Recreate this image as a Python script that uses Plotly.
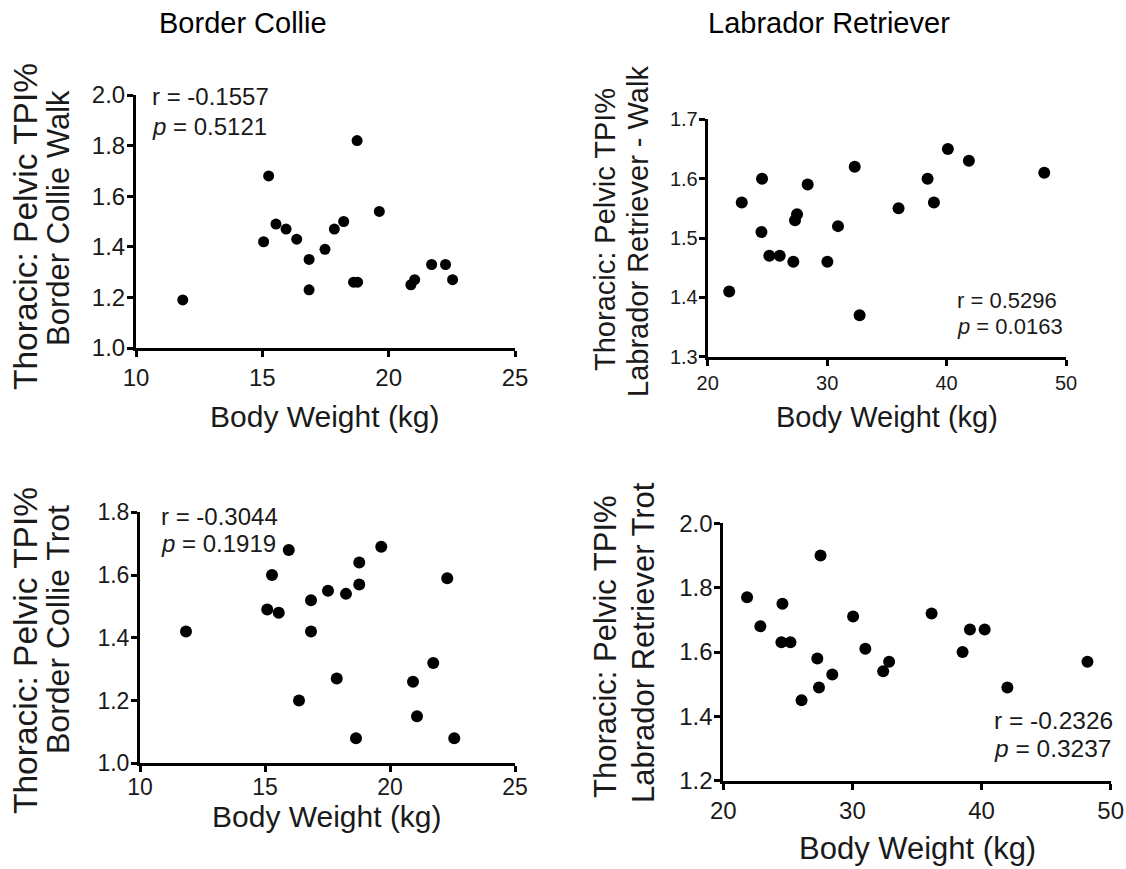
import plotly.graph_objects as go

W, H = 1126, 869

# ---------------- data ----------------
bc_walk_weight = [11.85, 15.05, 15.25, 15.54, 15.94, 16.36, 16.85, 16.85, 17.48, 17.85,
                  18.22, 18.61, 18.75, 18.77, 19.63, 20.88, 21.03, 21.70, 22.25, 22.53]
bc_walk_tpi = [1.19, 1.42, 1.68, 1.49, 1.47, 1.43, 1.35, 1.23, 1.39, 1.47,
               1.50, 1.26, 1.82, 1.26, 1.54, 1.25, 1.27, 1.33, 1.33, 1.27]

lab_walk_weight = [21.80, 22.85, 24.50, 24.55, 25.16, 26.03, 27.17, 27.31, 27.48, 28.37,
                   30.02, 30.91, 32.31, 32.72, 35.98, 38.41, 38.94, 40.11, 41.87, 48.18]
lab_walk_tpi = [1.41, 1.56, 1.51, 1.60, 1.47, 1.47, 1.46, 1.53, 1.54, 1.59,
                1.46, 1.52, 1.62, 1.37, 1.55, 1.60, 1.56, 1.65, 1.63, 1.61]

bc_trot_weight = [11.84, 15.09, 15.28, 15.55, 15.95, 16.36, 16.84, 16.84, 17.52, 17.87,
                  18.24, 18.64, 18.77, 18.77, 19.65, 20.92, 21.08, 21.73, 22.29, 22.57]
bc_trot_tpi = [1.42, 1.49, 1.60, 1.48, 1.68, 1.20, 1.52, 1.42, 1.55, 1.27,
               1.54, 1.08, 1.64, 1.57, 1.69, 1.26, 1.15, 1.32, 1.59, 1.08]

lab_trot_weight = [21.84, 22.87, 24.50, 24.58, 25.20, 26.06, 27.28, 27.41, 27.53, 28.44,
                   30.05, 31.00, 32.38, 32.84, 36.13, 38.53, 39.10, 40.24, 42.00, 48.20]
lab_trot_tpi = [1.77, 1.68, 1.63, 1.75, 1.63, 1.45, 1.58, 1.49, 1.90, 1.53,
                1.71, 1.61, 1.54, 1.57, 1.72, 1.60, 1.67, 1.67, 1.49, 1.57]

column_titles = ["Border Collie", "Labrador Retriever"]
y_title_line1 = "Thoracic: Pelvic TPI%"
y_title_line2 = ["Border Collie Walk", "Labrador Retriever - Walk",
                 "Border Collie Trot", "Labrador Retriever Trot"]
x_title = "Body Weight (kg)"
r_texts = ["r = -0.1557", "r = 0.5296", "r = -0.3044", "r = -0.2326"]
p_texts = ["0.5121", "0.0163", "0.1919", "0.3237"]

bc_xticks = [10, 15, 20, 25]
lab_xticks = [20, 30, 40, 50]
y_ticks = [
    [1.0, 1.2, 1.4, 1.6, 1.8, 2.0],
    [1.3, 1.4, 1.5, 1.6, 1.7],
    [1.0, 1.2, 1.4, 1.6, 1.8],
    [1.2, 1.4, 1.6, 1.8, 2.0],
]

# ---------------- layout helpers ----------------
FONT = "Liberation Sans, Arial, Helvetica, sans-serif"
TXT = "#1a1a1a"


def px(x, y):
    return x / W, 1 - y / H


# panel boxes in pixels: (x0, x1, ytop, ybottom)
boxes = [(136, 515, 95, 348), (707.7, 1066, 119.3, 356.7),
         (140, 515, 512.3, 763.3), (723.3, 1110.7, 523.3, 780.7)]
xranges = [[10, 25], [20, 50], [10, 25], [20, 50]]
yranges = [[1.0, 2.0], [1.3, 1.7], [1.0, 1.8], [1.2, 2.0]]
xtickvals = [bc_xticks, lab_xticks, bc_xticks, lab_xticks]
tickfont_sizes = [24, 20, 23, 24]
xlabel_standoff = [0, 0, -5, 0]
marker_sizes = [11, 12, 12, 12]
series = [(bc_walk_weight, bc_walk_tpi), (lab_walk_weight, lab_walk_tpi),
          (bc_trot_weight, bc_trot_tpi), (lab_trot_weight, lab_trot_tpi)]

fig = go.Figure()
layout = dict(width=W, height=H, autosize=False,
              margin=dict(l=0, r=0, t=0, b=0, pad=0, autoexpand=False),
              paper_bgcolor="white", plot_bgcolor="white", showlegend=False,
              font=dict(family=FONT, color=TXT))

for i in range(4):
    n = "" if i == 0 else str(i + 1)
    x0, x1, yt, yb = boxes[i]
    xs, ys = series[i]
    fig.add_trace(go.Scatter(x=xs, y=ys, mode="markers",
                             marker=dict(color="black", size=marker_sizes[i]),
                             xaxis="x" + n, yaxis="y" + n, cliponaxis=False))
    common = dict(showline=True, linecolor="black", linewidth=3, ticks="outside",
                  ticklen=6, tickwidth=3, tickcolor="black", showgrid=False,
                  zeroline=False, automargin=False,
                  tickfont=dict(size=tickfont_sizes[i], family=FONT, color=TXT))
    layout["xaxis" + n] = dict(domain=[x0 / W, x1 / W], range=xranges[i],
                               tickvals=xtickvals[i], anchor="y" + n,
                               ticklabelstandoff=xlabel_standoff[i], **common)
    layout["yaxis" + n] = dict(domain=[1 - yb / H, 1 - yt / H], range=yranges[i],
                               tickvals=y_ticks[i], tickformat=".1f",
                               anchor="x" + n, ticklabelstandoff=-3, **common)

ann = []


def add_text(text, x, y, size, xanchor="center", angle=0, color=TXT):
    ax, ay = px(x, y)
    ann.append(dict(text=text, x=ax, y=ay, xref="paper", yref="paper",
                    xanchor=xanchor, yanchor="middle", showarrow=False,
                    textangle=angle, font=dict(size=size, family=FONT, color=color)))


# column titles
add_text(column_titles[0], 243, 23, 29, color="black")
add_text(column_titles[1], 829, 23, 29, color="black")

# y titles (two lines each)
y1_pos = [(25, 227, 33.5), (605, 230, 29), (25, 651, 33.5), (605, 647, 31)]
y2_pos = [(58, 218, 31), (638, 232, 29), (58, 630, 32), (643, 643, 31)]
for i in range(4):
    add_text(y_title_line1, y1_pos[i][0], y1_pos[i][1], y1_pos[i][2], angle=-90)
    add_text(y_title_line2[i], y2_pos[i][0], y2_pos[i][1], y2_pos[i][2], angle=-90)

# x titles
x_pos = [(325, 417, 30), (887, 417, 29), (327, 816, 30), (917, 848, 31)]
for (x, y, s) in x_pos:
    add_text(x_title, x, y, s)

# r / p statistics
stat_pos = [(150, 96, 126.7, 24), (955, 300, 326.7, 22),
            (159, 516.7, 543.3, 24), (991.7, 720, 748.3, 24.5)]
for i in range(4):
    x, yr, yp, s = stat_pos[i]
    add_text(r_texts[i], x, yr, s, xanchor="left")
    add_text("<i>p</i> = " + p_texts[i], x, yp, s, xanchor="left")

layout["annotations"] = ann
fig.update_layout(**layout)
fig.write_html("out.html", config={"responsive": False},
               post_script="document.body.style.margin='0';document.body.style.padding='0';")
